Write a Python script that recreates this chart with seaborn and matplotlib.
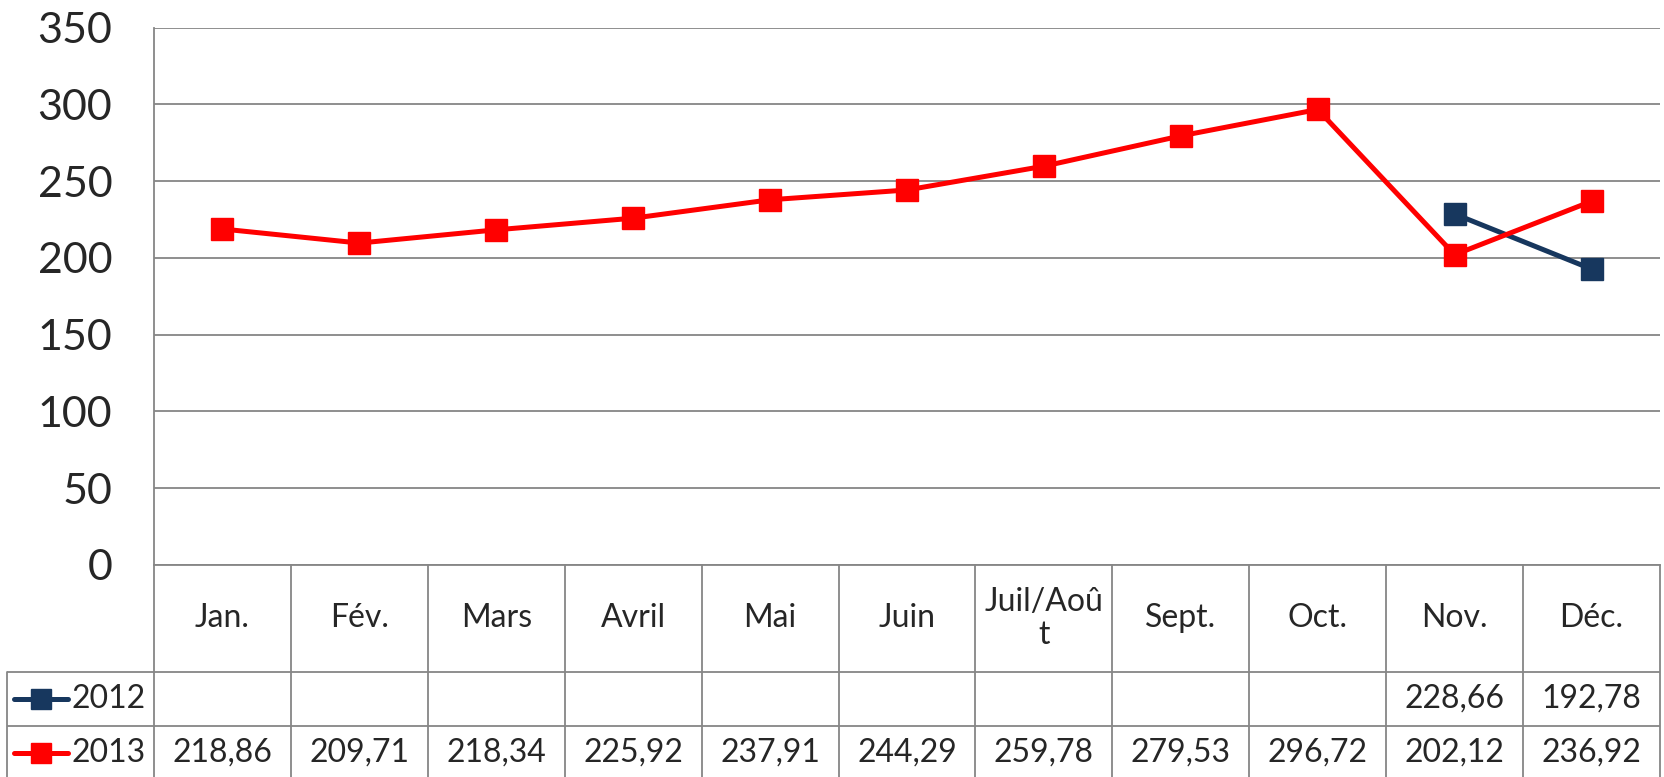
import numpy as np
import pandas as pd
import seaborn as sns
import matplotlib.pyplot as plt

# data
months = ['Jan.', 'Fév.', 'Mars', 'Avril', 'Mai', 'Juin', 'Juil/Août', 'Sept.', 'Oct.', 'Nov.', 'Déc.']
header_labels = ['Jan.', 'Fév.', 'Mars', 'Avril', 'Mai', 'Juin', 'Juil/Aoû\nt', 'Sept.', 'Oct.', 'Nov.', 'Déc.']
values_2012 = [None, None, None, None, None, None, None, None, None, 228.66, 192.78]
values_2013 = [218.86, 209.71, 218.34, 225.92, 237.91, 244.29, 259.78, 279.53, 296.72, 202.12, 236.92]
series_names = ['2012', '2013']
series_colors = ['#17375E', '#FF0000']
y_ticks = [0, 50, 100, 150, 200, 250, 300, 350]

sns.set_style("white")
plt.rcParams['font.family'] = ['Lato', 'DejaVu Sans']

W, H = 1665, 777
fig = plt.figure(figsize=(W / 100, H / 100), dpi=100)

# pixel layout
x_left, x_right = 154, 1660
y_top, y_zero = 27.7, 565
leg_left = 7
cat_w = (x_right - x_left) / len(months)

ax = fig.add_axes([x_left / W, (H - y_zero) / H, (x_right - x_left) / W, (y_zero - y_top) / H])

df = pd.DataFrame({'pos': np.arange(len(months)),
                   '2012': pd.array(values_2012, dtype='Float64').astype(float),
                   '2013': values_2013})

grid_col = '#868686'
for name, col in zip(series_names, series_colors):
    sns.lineplot(data=df, x='pos', y=name, ax=ax, color=col, linewidth=3.6,
                 marker='s', markersize=16, markeredgecolor=col, markeredgewidth=1)

ax.set_xlim(-0.5, len(months) - 0.5)
ax.set_ylim(0, 350)
ax.set_yticks(y_ticks)
ax.set_yticklabels([str(t) for t in y_ticks], fontsize=31)
ax.tick_params(axis='y', length=0, pad=30)
ax.set_xticks([])
ax.set_xlabel('')
ax.set_ylabel('')
ax.yaxis.grid(True, color=grid_col, linewidth=1.3)
ax.set_axisbelow(True)
for s in ['top', 'right']:
    ax.spines[s].set_visible(False)
for s in ['left', 'bottom']:
    ax.spines[s].set_color(grid_col)
    ax.spines[s].set_linewidth(1.3)

# data table under the chart
tab = fig.add_axes([leg_left / W, 0, (x_right - leg_left) / W, (H - y_zero) / H])
x0 = -0.5 - (x_left - leg_left) / cat_w
tab.set_xlim(x0, len(months) - 0.5)
tab.set_ylim(H - y_zero, 0)
tab.axis('off')

r1, r2, r3 = 106.7, 161, 214
lw = 1.3
for k in range(len(months) + 1):
    tab.plot([-0.5 + k, -0.5 + k], [0, r3], color=grid_col, lw=lw, clip_on=False)
tab.plot([x0, x0], [r1, r3], color=grid_col, lw=lw, clip_on=False)
for yy in [r1, r2]:
    tab.plot([x0, len(months) - 0.5], [yy, yy], color=grid_col, lw=lw)

for i, lab in enumerate(header_labels):
    tab.text(i, r1 / 2, lab, ha='center', va='center', fontsize=23,
             multialignment='center', linespacing=1.15)

rows = [values_2012, values_2013]
row_mid = [(r1 + r2) / 2, (r2 + r3) / 2]
for vals, ym, name, col in zip(rows, row_mid, series_names, series_colors):
    for i, v in enumerate(vals):
        if v is not None:
            tab.text(i, ym, f'{v:.2f}'.replace('.', ','), ha='center', va='center', fontsize=23)
    # legend key
    px = lambda p: x0 + (p - leg_left) / cat_w
    tab.plot([px(14), px(68)], [ym, ym], color=col, lw=3.6, solid_capstyle='round')
    tab.plot([px(41)], [ym], marker='s', markersize=15, color=col)
    tab.text(px(72), ym, name, ha='left', va='center', fontsize=23)

fig.savefig('out.png', dpi=100)
